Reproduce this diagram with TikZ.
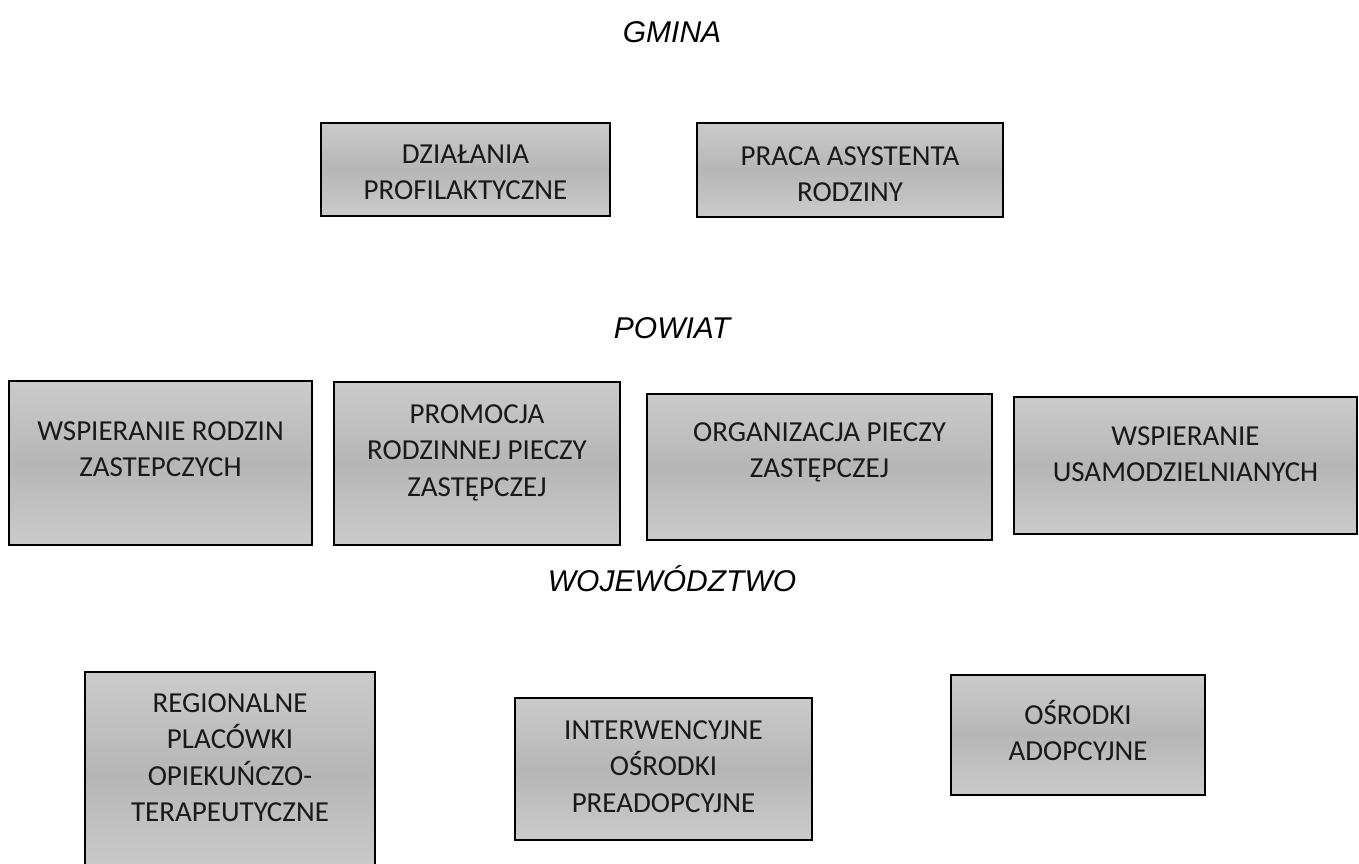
\documentclass[tikz,border=0pt]{standalone}
\usepackage{fontspec}
\setmainfont{Carlito}
\newfontfamily\headfont{Liberation Sans}
\newcommand\boxlines[1]{\begin{tabular}[t]{@{}c@{}}#1\end{tabular}}
\definecolor{boxlight}{HTML}{CBCBCB}
\definecolor{boxdark}{HTML}{B6B6B6}
\tikzset{
  box/.style={draw=black, line width=1.8pt, top color=boxlight, bottom color=boxlight, middle color=boxdark, inner sep=0pt},
  lbl/.style={anchor=base, inner sep=0pt, font=\fontsize{29}{36.5}\selectfont, text=black!90},
  head/.style={anchor=base, inner sep=0pt, font=\headfont\itshape\fontsize{30}{36}\selectfont}
}
\begin{document}
\begin{tikzpicture}[x=1pt,y=-1pt]
\useasboundingbox (0,0) rectangle (1359,863);
\clip (0,0) rectangle (1359,863);
% headings
\node[head] (hg) at (672,42) {GMINA};
\node[head] (hp) at (672,338) {POWIAT};
\node[head] (hw) at (672,591) {WOJEWÓDZTWO};
% GMINA boxes
\node[box, minimum width=289pt, minimum height=93pt] (g1) at (465.5,169.5) {};
\node[lbl] (g1t) at (465.5,163) {\boxlines{DZIAŁANIA\\PROFILAKTYCZNE}};
\node[box, minimum width=306pt, minimum height=94pt] (g2) at (850,170) {};
\node[lbl] (g2t) at (850,165) {\boxlines{PRACA ASYSTENTA\\RODZINY}};
% POWIAT boxes
\node[box, minimum width=303pt, minimum height=164pt] (p1) at (160.5,463) {};
\node[lbl] (p1t) at (160.5,440) {\boxlines{WSPIERANIE RODZIN\\ZASTEPCZYCH}};
\node[box, minimum width=286pt, minimum height=163pt] (p2) at (477,463.5) {};
\node[lbl] (p2t) at (477,423) {\boxlines{PROMOCJA\\RODZINNEJ PIECZY\\ZASTĘPCZEJ}};
\node[box, minimum width=345pt, minimum height=146pt] (p3) at (819.5,467) {};
\node[lbl] (p3t) at (819.5,441) {\boxlines{ORGANIZACJA PIECZY\\ZASTĘPCZEJ}};
\node[box, minimum width=343pt, minimum height=137pt] (p4) at (1185.5,465.5) {};
\node[lbl] (p4t) at (1185.5,445) {\boxlines{WSPIERANIE\\USAMODZIELNIANYCH}};
% WOJEWODZTWO boxes
\node[box, minimum width=290pt, minimum height=203pt] (w1) at (230,773.5) {};
\node[lbl] (w1t) at (230,712) {\boxlines{REGIONALNE\\PLACÓWKI\\OPIEKUŃCZO-\\TERAPEUTYCZNE}};
\node[box, minimum width=297pt, minimum height=142pt] (w2) at (663.5,769) {};
\node[lbl] (w2t) at (663.5,739) {\boxlines{INTERWENCYJNE\\OŚRODKI\\PREADOPCYJNE}};
\node[box, minimum width=254pt, minimum height=120pt] (w3) at (1078,735) {};
\node[lbl] (w3t) at (1078,724) {\boxlines{OŚRODKI\\ADOPCYJNE}};
\end{tikzpicture}
\end{document}
